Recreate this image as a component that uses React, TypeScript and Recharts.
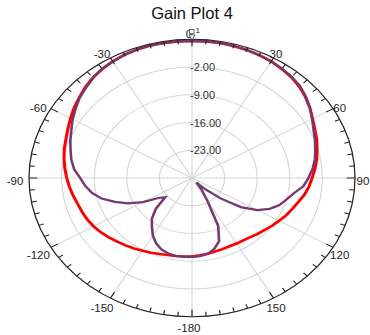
import React from "react";
import { RadarChart, Radar, PolarGrid, PolarAngleAxis, PolarRadiusAxis } from "recharts";

// angle categories, degrees clockwise from the top (185..355 are shown as -175..-5)
const angles = [
  0, 5, 10, 15, 20, 25, 30, 35, 40, 45, 50, 55, 60, 65, 70, 75, 80, 85, 90,
  95, 100, 105, 110, 115, 120, 125, 130, 135, 140, 145, 150, 155, 160, 165, 170, 175, 180,
  185, 190, 195, 200, 205, 210, 215, 220, 225, 230, 235, 240, 245, 250, 255, 260, 265, 270,
  275, 280, 285, 290, 295, 300, 305, 310, 315, 320, 325, 330, 335, 340, 345, 350, 355,
];

// dB(GainTotal), red trace
const gainRed = [
  4.6, 4.6, 4.6, 4.5, 4.4, 4.2, 4.0, 3.6, 3.2, 2.6, 1.8, 0.9, -0.1, -0.9, -1.5, -2.2, -2.8, -3.5, -4.2,
  -4.8, -5.5, -6.4, -7.1, -7.7, -8.4, -9.0, -9.6, -10.1, -10.5, -10.8, -10.9, -11.0, -10.9, -10.8, -10.6, -10.4, -10.2,
  -10.1, -10.0, -9.9, -9.6, -9.2, -8.8, -8.3, -7.8, -7.3, -6.7, -6.1, -5.6, -5.2, -4.9, -4.6, -4.1, -3.6, -3.1,
  -2.6, -2.1, -1.6, -1.2, -0.6, 0.1, 0.9, 1.6, 2.4, 3.1, 3.6, 4.0, 4.3, 4.5, 4.6, 4.6, 4.6,
];

// dB(GainTotal), purple trace
const gainPurple = [
  4.6, 4.6, 4.6, 4.5, 4.4, 4.2, 4.0, 3.7, 3.3, 2.8, 1.9, 0.9, -0.2, -1.2, -1.9, -2.6, -3.2, -4.0, -5.0,
  -6.0, -7.8, -9.0, -10.0, -11.6, -13.8, -17.2, -22.0, -26.0, -28.5, -26.5, -23.5, -16.7, -13.0, -11.5, -10.6, -10.2, -10.1,
  -10.0, -10.0, -10.3, -10.8, -11.8, -13.2, -15.0, -16.6, -19.0, -22.5, -21.2, -17.8, -14.8, -12.4, -9.9, -8.2, -7.0, -6.0,
  -4.6, -3.7, -3.0, -2.2, -1.4, -0.4, 0.5, 1.5, 2.2, 3.0, 3.6, 4.0, 4.3, 4.5, 4.6, 4.6, 4.6,
];

const radiusTicks = [-30, -23, -16, -9, -2, 5];
const radiusLabels = [-23, -16, -9, -2];
const majorAngles = [0, 30, 60, 90, 120, 150, 180, 210, 240, 270, 300, 330];

const data = angles.map((a, i) => ({ angle: a, red: gainRed[i], purple: gainPurple[i] }));

// layout: plot is an ellipse, drawn as a circle and stretched horizontally
const CX = 192;
const CY = 178;
const R = 138.7;
const SX = 163 / 138.7;
const FONT = "'Liberation Sans', Arial, sans-serif";

const toLabel = (a: number) => (a >= 180 ? a - 360 : a);

function AngleTick(props: any) {
  const { payload } = props;
  const a = Number(payload.value);
  const rad = (-payload.coordinate * Math.PI) / 180;
  const major = a % 30 === 0;
  const len = major ? 7 : 4.5;
  const c = Math.cos(rad);
  const s = Math.sin(rad);
  // label box centre, worked out in page pixels then mapped back before the stretch
  const t = (a * Math.PI) / 180;
  const lx = CX + (-3 + 174 * Math.sin(t)) / SX;
  const ly = CY + 3 - 147 * Math.cos(t);
  return (
    <g>
      <line x1={CX + c * R} y1={CY + s * R} x2={CX + c * (R - len)} y2={CY + s * (R - len)} stroke="#222" strokeWidth={1} />
      {major && (
        <text
          transform={`translate(${lx},${ly}) scale(${1 / SX},1)`}
          textAnchor="middle"
          dominantBaseline="central"
          fontSize={11.5}
          fontFamily={FONT}
          fill="#222"
        >
          {toLabel(a)}
        </text>
      )}
    </g>
  );
}

function RadiusTick(props: any) {
  const { x, y, payload } = props;
  if (!radiusLabels.includes(payload.value)) return null;
  return (
    <text
      transform={`translate(${x},${y}) scale(${1 / SX},1)`}
      x={-2}
      textAnchor="start"
      dominantBaseline="central"
      fontSize={11}
      fontFamily={FONT}
      fill="#333"
    >
      {payload.value.toFixed(2)}
    </text>
  );
}

function MarkerDot(props: any) {
  const { cx, cy, index } = props;
  if (index !== 0) return null;
  return (
    <g transform={`translate(${cx},${cy}) scale(${1 / SX},1)`}>
      <polygon points="-3,-6 3,-6 0,-1" fill="#fff" stroke="#333" strokeWidth={0.8} />
      <rect x={-2.5} y={-11.5} width={4.5} height={4} fill="#fff" stroke="#555" strokeWidth={0.8} />
      <text x={3.5} y={-8} fontSize={8} fontFamily={FONT} fill="#222">
        1
      </text>
    </g>
  );
}

export default function App() {
  return (
    <div style={{ position: "absolute", left: 0, top: 0, width: 370, height: 335, background: "#fff", overflow: "hidden" }}>
      <div
        style={{
          position: "absolute",
          left: 0,
          top: 3,
          width: 384,
          textAlign: "center",
          fontFamily: FONT,
          fontSize: 16.5,
          lineHeight: "20px",
          color: "#111",
        }}
      >
        Gain Plot 4
      </div>
      <div style={{ position: "absolute", left: 0, top: 0, transform: `scaleX(${SX})`, transformOrigin: `${CX}px ${CY}px` }}>
        <RadarChart
          width={370}
          height={335}
          data={data}
          cx={CX}
          cy={CY}
          outerRadius={R}
          margin={{ top: 0, right: 0, bottom: 0, left: 0 }}
        >
          <PolarGrid
            gridType="circle"
            stroke="#d6d6d6"
            polarAngles={majorAngles.map((a) => 90 - a)}
          />
          <PolarAngleAxis
            dataKey="angle"
            axisLineType="circle"
            stroke="#222"
            tickLine={false}
            tick={<AngleTick />}
          />
          <PolarRadiusAxis
            angle={90}
            type="number"
            domain={[-30, 5]}
            ticks={radiusTicks}
            axisLine={false}
            tick={<RadiusTick />}
          />
          <Radar dataKey="red" stroke="#ff0000" strokeWidth={2.6} fill="none" fillOpacity={0} isAnimationActive={false} />
          <Radar
            dataKey="purple"
            stroke="#76386f"
            strokeWidth={2.2}
            fill="none"
            fillOpacity={0}
            dot={<MarkerDot />}
            isAnimationActive={false}
          />
        </RadarChart>
      </div>
    </div>
  );
}
